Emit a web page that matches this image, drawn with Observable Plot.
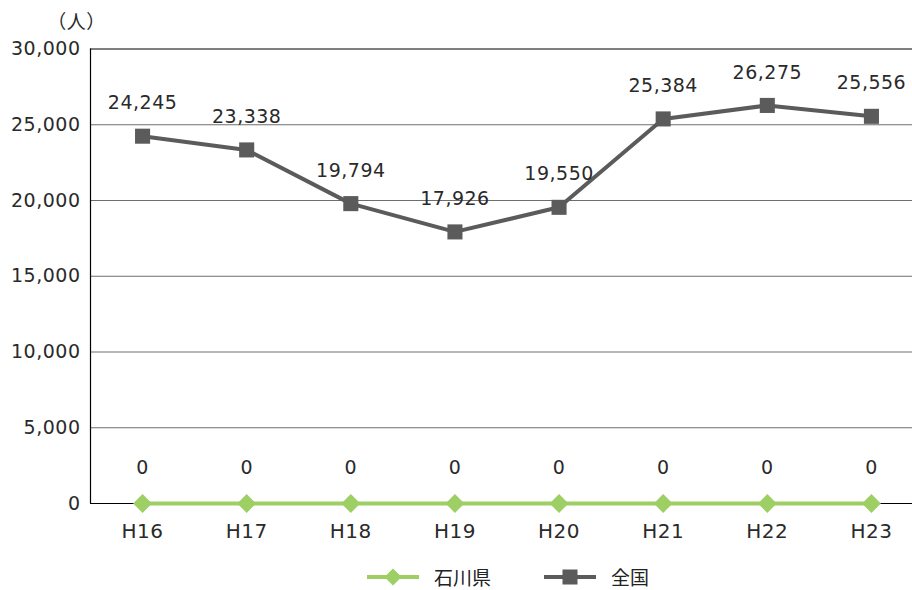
<!DOCTYPE html>
<html>
<head>
<meta charset="utf-8">
<script src="https://cdn.jsdelivr.net/npm/d3@7"></script>
<script src="https://cdn.jsdelivr.net/npm/@observablehq/plot@0.6"></script>
<style>
  html, body { margin: 0; padding: 0; background: #fff; }
  #chart { width: 912px; overflow: hidden; }
  #chart svg text { letter-spacing: 0.5px; }
  .legend { display: flex; align-items: center; height: 35px; padding-left: 367px; padding-top: 4px;
    font-family: "Noto Sans CJK JP", sans-serif; font-size: 19px; color: #222; }
  .legend .item { display: flex; align-items: center; }
  .legend svg { margin-right: 15px; }
  .legend .item + .item { margin-left: 53px; }
</style>
</head>
<body>
<div id="chart"></div>
<div class="legend">
  <div class="item">
    <svg width="52" height="22"><line x1="0" y1="11" x2="52" y2="11" stroke="#9dcf65" stroke-width="4"/><path d="M26,2.5 L34.5,11 L26,19.5 L17.5,11 Z" fill="#9dcf65"/></svg>
    <span>石川県</span>
  </div>
  <div class="item">
    <svg width="52" height="22"><line x1="0" y1="11" x2="52" y2="11" stroke="#5b5b5b" stroke-width="4"/><rect x="18.5" y="3.5" width="15" height="15" fill="#5b5b5b"/></svg>
    <span>全国</span>
  </div>
</div>
<script>
// Fiscal years (Heisei era)
const years = ["H16", "H17", "H18", "H19", "H20", "H21", "H22", "H23"];
// Ishikawa Prefecture
const ishikawa = [0, 0, 0, 0, 0, 0, 0, 0];
// Nationwide
const national = [24245, 23338, 19794, 17926, 19550, 25384, 26275, 25556];
const yTicks = [0, 5000, 10000, 15000, 20000, 25000, 30000];

const rowsI = years.map((y, i) => ({i, year: y, value: ishikawa[i]}));
const rowsN = years.map((y, i) => ({i, year: y, value: national[i]}));
const fmt = d3.format(",");
const font = "'DejaVu Sans', 'Noto Sans CJK JP', sans-serif";

const chart = Plot.plot({
  width: 912,
  height: 555,
  marginLeft: 90,
  marginRight: 0,
  marginTop: 48.5,
  marginBottom: 52,
  style: {fontFamily: font, fontSize: "19px", color: "#2a2a2a", background: "#fff"},
  x: {type: "linear", domain: [-0.5, 7.5], range: [90, 923]},
  y: {domain: [0, 30000], range: [503, 48.5]},
  marks: [
    // horizontal gridlines
    Plot.ruleY(yTicks.filter(t => t > 0 && t < 30000), {x1: -0.5, x2: 7.5, stroke: "#6e6e6e", strokeWidth: 1.2}),
    Plot.ruleY([30000], {x1: -0.5, x2: 7.5, stroke: "#000", strokeWidth: 1.2}),
    Plot.ruleY([0], {x1: -0.5, x2: 7.5, stroke: "#000", strokeWidth: 1.2}),
    Plot.ruleX([-0.5], {y1: 0, y2: 30000, stroke: "#000", strokeWidth: 1.2}),
    Plot.axisY({ticks: yTicks, tickSize: 0, tickPadding: 10, tickFormat: fmt, label: null, fontSize: 19}),
    Plot.axisX({ticks: d3.range(8), tickSize: 0, tickPadding: 20, tickFormat: i => years[i], label: null, fontSize: 20}),
    Plot.text(["（人）"], {frameAnchor: "top-left", textAnchor: "middle", dx: -14, dy: -34, fontSize: 19, fontFamily: "'Noto Sans CJK JP', sans-serif"}),
    // nationwide series
    Plot.line(rowsN, {x: "i", y: "value", stroke: "#5b5b5b", strokeWidth: 4}),
    Plot.dot(rowsN, {x: "i", y: "value", symbol: "square", r: 8.5, fill: "#5b5b5b"}),
    Plot.text(rowsN, {x: "i", y: "value", text: d => fmt(d.value), dy: -33, fontSize: 19, fill: "#2a2a2a"}),
    // Ishikawa series
    Plot.line(rowsI, {x: "i", y: "value", stroke: "#9dcf65", strokeWidth: 4}),
    Plot.dot(rowsI, {x: "i", y: "value", symbol: "diamond2", r: 8.5, fill: "#9dcf65"}),
    Plot.text(rowsI, {x: "i", y: "value", text: d => fmt(d.value), dy: -36, fontSize: 19, fill: "#2a2a2a"})
  ]
});
document.getElementById("chart").appendChild(chart);
</script>
</body>
</html>
